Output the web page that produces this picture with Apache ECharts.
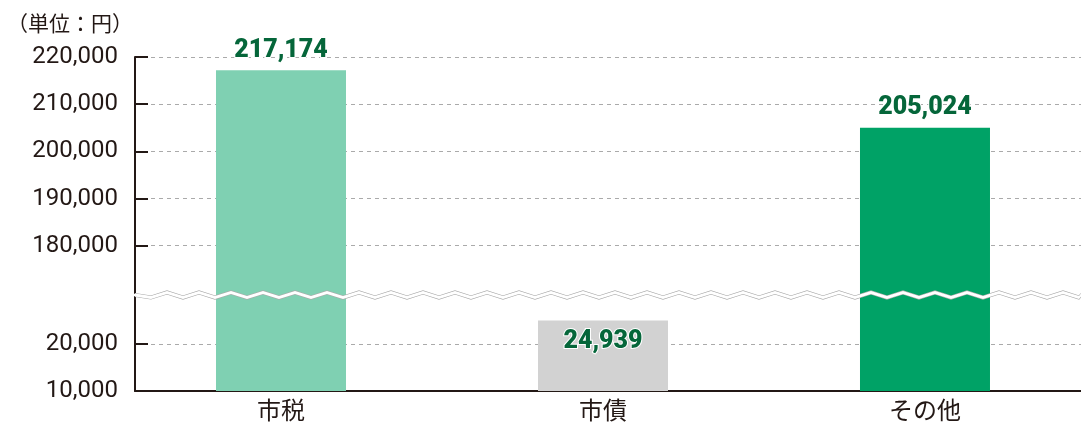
<!DOCTYPE html>
<html>
<head>
<meta charset="utf-8">
<script src="https://cdn.jsdelivr.net/npm/echarts@6/dist/echarts.min.js"></script>
<style>
  html, body { margin: 0; padding: 0; background: #fff; }
  #chart { width: 1081px; height: 425px; }
</style>
</head>
<body>
<div id="chart"></div>
<script>
// data
var categories = ['市税', '市債', 'その他'];
var amounts = [217174, 24939, 205024];
var yTickValues = [10000, 20000, 180000, 190000, 200000, 210000, 220000];
var barColors = ['#7fd0b2', '#d2d2d2', '#00a266'];

var chart = echarts.init(document.getElementById('chart'));

function fmt(v) {
    return Number(v).toLocaleString('en-US');
}

var option = {
    animation: false,
    title: {
        text: '（単位：円）',
        left: 2,
        top: 8,
        textStyle: {
            fontFamily: 'Noto Sans CJK JP',
            fontSize: 21,
            fontWeight: 'normal',
            color: '#231815'
        }
    },
    grid: { //位置
        left: 135,
        right: 0,
        top: 57,
        bottom: 34
    },
    xAxis: {
        type: 'value',
        min: -0.4534,
        max: 2.4845,
        splitLine: { show: false },
        axisTick: { show: false },
        axisLine: {
            onZero: false,
            lineStyle: { color: '#231815', width: 2 }
        },
        axisLabel: {
            customValues: [0, 1, 2],
            formatter: function (v) { return categories[Math.round(v)]; },
            color: '#231815',
            fontFamily: 'Noto Sans CJK JP',
            fontSize: 24,
            margin: 7
        }
    },
    yAxis: {
        type: 'value',
        min: 10000,
        max: 220000,
        interval: 10000,
        breaks: [{ start: 30000, end: 170000, gap: 800 }],
        breakArea: {
            show: true,
            expandOnClick: false,
            zigzagAmplitude: 2.5,
            zigzagMinSpan: 16,
            zigzagMaxSpan: 16,
            itemStyle: {
                color: '#fff',
                borderColor: '#aaaaaa',
                borderWidth: 1.2,
                borderType: 'solid',
                opacity: 1
            }
        },
        axisLine: {
            show: true,
            onZero: false,
            lineStyle: { color: '#231815', width: 2 }
        },
        axisTick: {
            show: true,
            inside: true,
            length: 13,
            customValues: yTickValues,
            lineStyle: { color: '#231815', width: 2 }
        },
        splitLine: {
            show: true,
            lineStyle: { color: '#aaaaaa', type: [4, 4], width: 1 }
        },
        axisLabel: {
            customValues: yTickValues,
            formatter: fmt,
            color: '#231815',
            fontFamily: 'Roboto',
            fontSize: 24,
            margin: 17
        }
    },
    series: [{
        type: 'bar',
        barWidth: 130,
        data: amounts.map(function (v, i) {
            return {
                value: [i, v],
                itemStyle: { color: barColors[i] },
                label: i === 1 ? { position: 'insideTop', distance: 9 } : {}
            };
        }),
        label: {
            show: true,
            position: 'top',
            distance: 7,
            formatter: function (p) { return fmt(p.value[1]); },
            color: '#05663a',
            fontFamily: 'Roboto',
            fontWeight: 900,
            fontSize: 25,
            textBorderColor: '#fff',
            textBorderWidth: 2
        }
    }]
};

chart.setOption(option);
</script>
</body>
</html>
